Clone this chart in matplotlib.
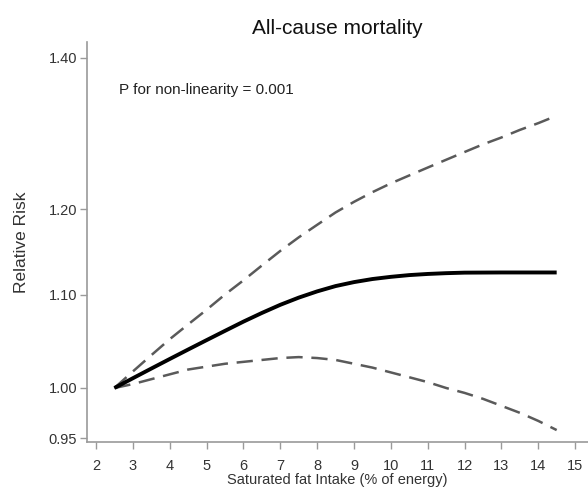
import matplotlib
matplotlib.use("Agg")
import matplotlib.pyplot as plt
from matplotlib.ticker import FixedLocator, NullLocator

# ---- data -----------------------------------------------------------------
rr_x = [2.5, 3.0, 3.5, 4.0, 4.5, 5.0, 5.5, 6.0, 6.5, 7.0, 7.5, 8.0, 8.5,
        9.0, 9.5, 10.0, 10.5, 11.0, 11.5, 12.0, 13.0, 14.5]
rr_est = [1.000, 1.010, 1.020, 1.030, 1.040, 1.050, 1.060, 1.070, 1.0795,
          1.0885, 1.0965, 1.1035, 1.1095, 1.1140, 1.1175, 1.1200, 1.1220,
          1.1233, 1.1242, 1.1248, 1.1250, 1.1250]

ci_x = [2.5, 3.0, 3.5, 4.0, 4.5, 5.0, 5.5, 6.0, 6.5, 7.0, 7.5, 8.0, 8.5,
        9.0, 9.5, 10.0, 10.5, 11.0, 11.5, 12.0, 12.5, 13.0, 13.5, 14.0, 14.5]
upper_ci = [1.000, 1.017, 1.034, 1.051, 1.067, 1.083, 1.100, 1.116, 1.133,
            1.150, 1.166, 1.181, 1.196, 1.209, 1.221, 1.232, 1.242, 1.252,
            1.262, 1.272, 1.282, 1.291, 1.301, 1.310, 1.320]
lower_ci = [1.000, 1.004, 1.009, 1.014, 1.019, 1.022, 1.025, 1.027, 1.029,
            1.031, 1.032, 1.031, 1.029, 1.025, 1.021, 1.016, 1.011, 1.006,
            1.000, 0.995, 0.989, 0.982, 0.975, 0.967, 0.958]

x_ticks = list(range(2, 16))
y_ticks = [0.95, 1.00, 1.10, 1.20, 1.40]

plt.rcParams["font.family"] = ["Liberation Sans", "DejaVu Sans"]

fig = plt.figure(figsize=(5.88, 4.92), dpi=100)
ax = fig.add_axes([0.148, 0.1016, 0.852, 0.813])

dash_style = dict(color="#5a5a5a", linewidth=1.8, linestyle=(0, (6.5, 3.5)))
ax.plot(ci_x, upper_ci, **dash_style)
ax.plot(ci_x, lower_ci, **dash_style)
ax.plot(rr_x, rr_est, color="black", linewidth=2.8, solid_capstyle="butt")

ax.set_yscale("log")
ax.set_xlim(1.756, 15.35)
ax.set_ylim(0.9464, 1.423)

ax.xaxis.set_major_locator(FixedLocator(x_ticks))
ax.set_xticklabels([str(t) for t in x_ticks])
ax.yaxis.set_major_locator(FixedLocator(y_ticks))
ax.yaxis.set_minor_locator(NullLocator())
ax.set_yticklabels([f"{t:.2f}" for t in y_ticks])

for side in ("top", "right"):
    ax.spines[side].set_visible(False)
for side in ("left", "bottom"):
    ax.spines[side].set_color("#9a9a9a")
    ax.spines[side].set_linewidth(1.2)
ax.tick_params(axis="both", colors="#9a9a9a", length=5, width=1.0,
               labelsize=10.5, labelcolor="#333333")
ax.tick_params(axis="x", pad=7)
ax.tick_params(axis="y", pad=2)

ax.set_title("All-cause mortality", fontsize=15, color="#111111", pad=6)
ax.set_xlabel("Saturated fat Intake (% of energy)", fontsize=10.5,
              color="#333333", labelpad=0)
ax.set_ylabel("Relative Risk", fontsize=12.5, color="#333333", labelpad=14)
ax.text(0.063, 0.88, "P for non-linearity = 0.001", transform=ax.transAxes,
        fontsize=11, color="#222222", ha="left", va="center")

fig.savefig("out.png", dpi=100)
